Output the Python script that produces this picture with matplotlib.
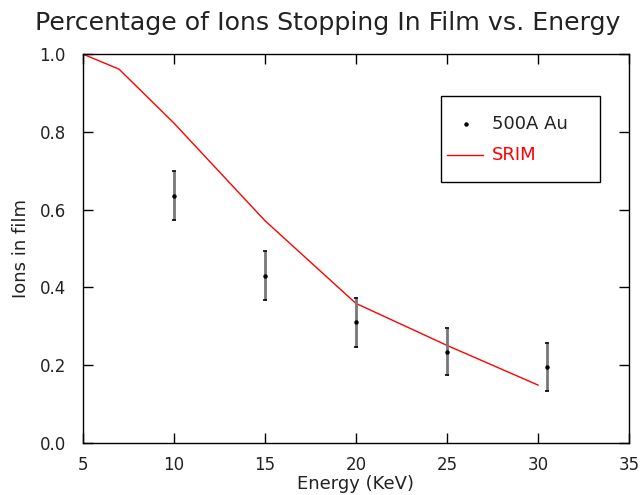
import matplotlib as mpl
mpl.use('Agg')
import matplotlib.pyplot as plt
from matplotlib.patches import Rectangle
import numpy as np

# measured points (500A Au film)
energy = [10, 15, 20, 25, 30.5]
frac_in_film = [0.635, 0.43, 0.31, 0.235, 0.195]
frac_err = [0.063, 0.063, 0.063, 0.061, 0.061]

# SRIM prediction
srim_energy = [5, 7, 10, 15, 20, 25, 30]
srim_frac = [1.0, 0.961, 0.823, 0.572, 0.359, 0.251, 0.149]

x_ticks = [5, 10, 15, 20, 25, 30, 35]
y_ticks = [0.0, 0.2, 0.4, 0.6, 0.8, 1.0]

plt.rcParams['font.family'] = ['DejaVu Sans']

fig = plt.figure(figsize=(6.4, 4.95), dpi=100)
ax = fig.add_axes([0.129, 0.105, 0.854, 0.786])

ax.plot(srim_energy, srim_frac, color='red', lw=1.0)
ax.errorbar(energy, frac_in_film, yerr=frac_err, fmt='none', ecolor='#777777',
            elinewidth=2, capsize=0, zorder=3)
ax.errorbar(energy, frac_in_film, yerr=frac_err, fmt='none', ecolor='black',
            elinewidth=0, capsize=1.5, capthick=1.2, zorder=4)
ax.plot(energy, frac_in_film, ls='none', marker='o', ms=2.2, color='black', zorder=5)

ax.set_xlim(5, 35)
ax.set_ylim(0, 1)
ax.set_xticks(x_ticks)
ax.set_yticks(y_ticks)
ax.set_xticklabels([str(t) for t in x_ticks])
ax.set_yticklabels([f'{t:.1f}' for t in y_ticks])
ax.tick_params(direction='in', top=True, right=True, length=7, width=1,
               labelsize=12, colors='black', labelcolor='#222222')
ax.tick_params(axis='x', pad=9)
ax.tick_params(axis='y', pad=12)
for s in ax.spines.values():
    s.set_linewidth(1.0)
    s.set_color('black')

ax.set_xlabel('Energy (KeV)', fontsize=13, color='#222222', labelpad=1)
ax.set_ylabel('Ions in film', fontsize=13, color='#222222', labelpad=7)
fig.text(0.512, 0.953, 'Percentage of Ions Stopping In Film vs. Energy',
         ha='center', va='center', fontsize=18.2, color='#222222')

# hand-built legend box, placed like the original
tr = ax.transAxes
ax.add_patch(Rectangle((0.656, 0.671), 0.291, 0.221, transform=tr,
                       facecolor='white', edgecolor='black', lw=1.0, zorder=6))
ax.plot([0.702], [0.820], transform=tr, marker='o', ms=2.2, color='black',
        ls='none', zorder=7)
ax.text(0.749, 0.820, '500A Au', transform=tr, va='center', ha='left',
        fontsize=13, color='#222222', zorder=7)
ax.plot([0.667, 0.733], [0.740, 0.740], transform=tr, color='red', lw=1.0, zorder=7)
ax.text(0.749, 0.740, 'SRIM', transform=tr, va='center', ha='left',
        fontsize=13, color='red', zorder=7)

fig.savefig('out.png', dpi=100)
